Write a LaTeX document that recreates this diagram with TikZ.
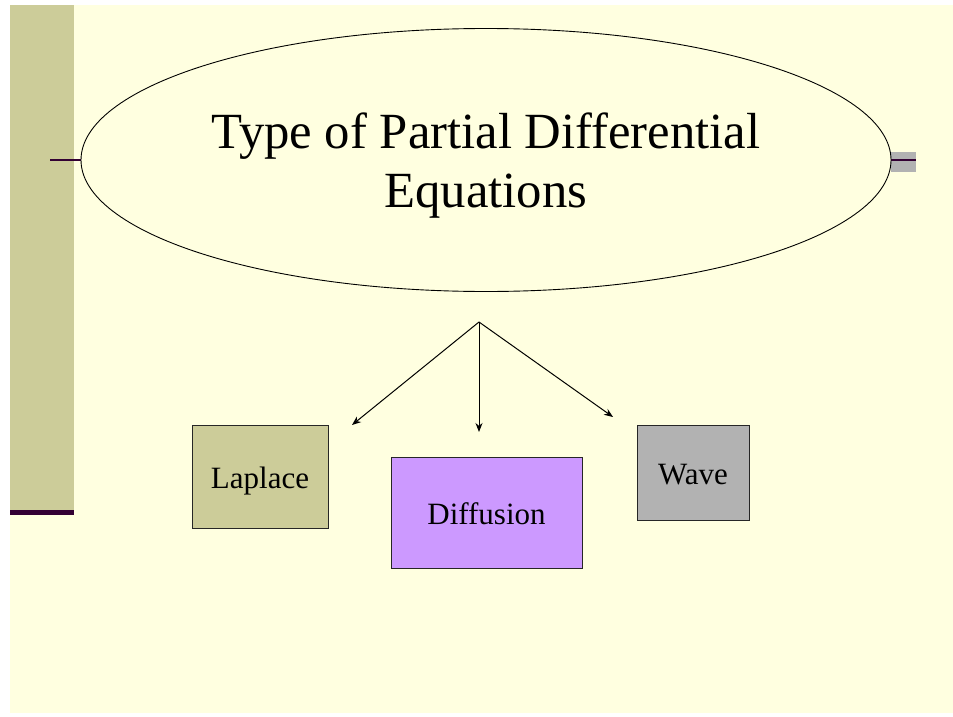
\documentclass[tikz,border=0pt]{standalone}
\usepackage{fontspec}
\setmainfont{Liberation Serif}
\usetikzlibrary{shapes.geometric,arrows.meta}
\definecolor{slidebg}{RGB}{255,255,224}
\definecolor{barolive}{RGB}{204,204,153}
\definecolor{barplum}{RGB}{51,0,51}
\definecolor{lilac}{RGB}{204,153,255}
\definecolor{greybox}{RGB}{178,178,178}
\begin{document}
\begin{tikzpicture}[x=1pt,y=-1pt,
  kind/.style={draw=black!85,line width=1pt,inner sep=0pt,text height=30pt,text depth=6pt,font=\fontsize{31}{37}\selectfont},
  branch/.style={line width=1pt,-{Stealth[length=9pt,width=7pt]}}]
% page size and slide background (1pt = 1px of the slide)
\useasboundingbox (0,0) rectangle (953,717);
\fill[white] (0,0) rectangle (953,717);
\fill[slidebg] (10,5) rectangle (953,713);
% left decoration bar
\fill[barolive] (10,5) rectangle (74,510);
\fill[barplum] (10,510) rectangle (74,515);
\draw[barplum,line width=1.8pt] (50,160) -- (84,160);
% right tab
\fill[greybox] (891,152) rectangle (916,172);
\draw[barplum,line width=1.8pt] (886,160) -- (916,160);
% title ellipse
\node[ellipse,draw,fill=slidebg,line width=0.9pt,minimum width=810,minimum height=263,inner sep=0pt] (title) at (486,160) {};
\node[align=center,font=\fontsize{50.7}{59}\selectfont] (titletext) at (486,165.5) {Type of Partial Differential\\Equations};
% the three kinds
\node[kind,fill=barolive,minimum width=136,minimum height=103] (laplace) at (260,476.5) {Laplace};
\node[kind,fill=lilac,minimum width=191,minimum height=111] (diffusion) at (486.5,512.5) {Diffusion};
\node[kind,fill=greybox,minimum width=112,minimum height=95] (wave) at (693,472.5) {Wave};
% arrows fan out from one point
\coordinate (fork) at (479,322);
\coordinate (tipL) at (352,425);
\coordinate (tipM) at (479,432);
\coordinate (tipR) at (613,417);
\foreach \t in {tipL,tipM,tipR} \draw[branch] (fork) -- (\t);
\end{tikzpicture}
\end{document}
